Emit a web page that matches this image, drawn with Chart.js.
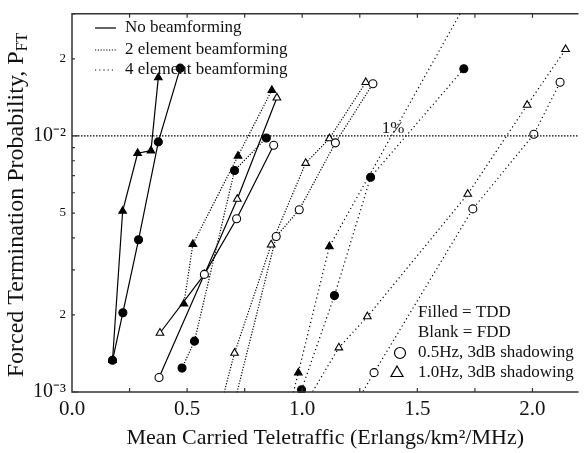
<!DOCTYPE html>
<html>
<head>
<meta charset="utf-8">
<script src="https://cdn.jsdelivr.net/npm/chart.js@4.4.0/dist/chart.umd.min.js"></script>
<style>
  body { margin: 0; background: #fff; }
  #wrap { width: 584px; height: 453px; }
</style>
</head>
<body>
<div id="wrap"><canvas id="ftChart"></canvas></div>
<script>
// [traffic (Erlangs/km^2/MHz), forced termination probability]
// no beamforming (solid)
const noBfTdd05 = [[0.176, 1.33e-3], [0.221, 2.04e-3], [0.289, 3.93e-3], [0.375, 9.48e-3], [0.470, 1.84e-2]];
const noBfTdd10 = [[0.176, 1.33e-3], [0.220, 5.09e-3], [0.285, 8.56e-3], [0.343, 8.76e-3], [0.375, 1.69e-2]];
const noBfFdd05 = [[0.378, 1.14e-3], [0.575, 2.88e-3], [0.715, 4.75e-3], [0.876, 9.2e-3]];
const noBfFdd10 = [[0.382, 1.70e-3], [0.575, 2.88e-3], [0.718, 5.67e-3], [0.890, 1.41e-2]];
// 2 element beamforming
const bf2Tdd05 = [[0.478, 1.24e-3], [0.532, 1.58e-3], [0.706, 7.33e-3], [0.844, 9.82e-3]];
const bf2Tdd10 = [[0.486, 2.21e-3], [0.525, 3.78e-3], [0.721, 8.36e-3], [0.868, 1.51e-2]];
const bf2Fdd05 = [[0.690, 8.0e-4], [0.887, 4.05e-3], [0.987, 5.15e-3], [1.144, 9.4e-3], [1.307, 1.60e-2]];
const bf2Fdd10 = [[0.633, 8.0e-4], [0.706, 1.42e-3], [0.865, 3.76e-3], [1.015, 7.83e-3], [1.118, 9.77e-3], [1.276, 1.62e-2]];
// 4 element beamforming
const bf4Tdd05 = [[0.997, 1.02e-3], [1.140, 2.38e-3], [1.297, 6.9e-3], [1.702, 1.83e-2]];
const bf4Tdd10 = [[0.935, 8.0e-4], [0.983, 1.19e-3], [1.118, 3.70e-3], [1.770, 4.1e-2]];
const bf4Fdd05 = [[1.200, 8.0e-4], [1.312, 1.19e-3], [1.741, 5.19e-3], [2.006, 1.015e-2], [2.120, 1.62e-2]];
const bf4Fdd10 = [[0.980, 8.0e-4], [1.159, 1.49e-3], [1.283, 1.97e-3], [1.719, 5.93e-3], [1.977, 1.32e-2], [2.144, 2.18e-2]];

// 1% reference line
const thresholdX = [0, 2.2];
const thresholdY = [0.01, 0.01];

const xTickValues = [0, 0.5, 1.0, 1.5, 2.0];
const yTickValues = [1e-3, 2e-3, 5e-3, 1e-2, 2e-2];
const yTickLabels = ['10\u207B\u00B3', '2', '5', '10\u207B\u00B2', '2'];

const SERIF = "'Liberation Serif', 'Times New Roman', serif";
const DASH_2 = [1.2, 1.6];
const DASH_4 = [1.2, 3];

function series(points, tdd, tri, dash) {
  return {
    data: points.map(p => ({ x: p[0], y: p[1] })),
    borderColor: '#000',
    borderWidth: 1.2,
    borderDash: dash,
    pointStyle: tri ? 'triangle' : 'circle',
    pointRadius: tri ? 4.4 : 4,
    pointBackgroundColor: tdd ? '#000' : '#fff',
    pointBorderColor: '#000',
    pointBorderWidth: 1.1,
    tension: 0,
    clip: { left: 6, right: 0, top: 0, bottom: 1 }
  };
}

const decorPlugin = {
  id: 'decor',
  afterDraw(chart) {
    const ctx = chart.ctx;
    const a = chart.chartArea;
    const xs = chart.scales.x;
    const ys = chart.scales.y;
    ctx.save();

    // frame (left, bottom, top)
    ctx.strokeStyle = '#333';
    ctx.lineWidth = 1.5;
    ctx.beginPath();
    ctx.moveTo(a.right, a.top);
    ctx.lineTo(a.left, a.top);
    ctx.lineTo(a.left, a.bottom);
    ctx.lineTo(a.right, a.bottom);
    ctx.stroke();

    // inward tick marks
    ctx.lineWidth = 1.2;
    ctx.beginPath();
    for (let v = 0.25; v < xs.max; v += 0.25) {
      const px = xs.getPixelForValue(v);
      ctx.moveTo(px, a.bottom); ctx.lineTo(px, a.bottom - 4);
      ctx.moveTo(px, a.top); ctx.lineTo(px, a.top + 4);
    }
    for (let d = -3; d <= -2; d++) {
      for (let m = 1; m <= 9; m++) {
        const v = m * Math.pow(10, d);
        if (v < ys.min || v > ys.max) continue;
        const py = ys.getPixelForValue(v);
        ctx.moveTo(a.left, py); ctx.lineTo(a.left + (m === 1 ? 6 : 3), py);
      }
    }
    ctx.stroke();

    ctx.fillStyle = '#111';

    // 1% label
    ctx.font = '17px ' + SERIF;
    ctx.textAlign = 'left';
    ctx.textBaseline = 'alphabetic';
    ctx.fillText('1%', xs.getPixelForValue(1.345), ys.getPixelForValue(0.01) - 3);

    // x title
    ctx.font = '22px ' + SERIF;
    ctx.textAlign = 'center';
    ctx.textBaseline = 'middle';
    ctx.fillText('Mean Carried Teletraffic (Erlangs/km\u00B2/MHz)', (a.left + a.right) / 2, 438);

    // y title with subscript
    ctx.save();
    ctx.translate(17, 205);
    ctx.rotate(-Math.PI / 2);
    const main = 'Forced Termination Probability, P';
    ctx.font = '24px ' + SERIF;
    const w1 = ctx.measureText(main).width;
    ctx.font = '16px ' + SERIF;
    const w2 = ctx.measureText('FT').width;
    const start = -(w1 + w2) / 2;
    ctx.textAlign = 'left';
    ctx.textBaseline = 'middle';
    ctx.font = '24px ' + SERIF;
    ctx.fillText(main, start, 0);
    ctx.font = '16px ' + SERIF;
    ctx.fillText('FT', start + w1, 6);
    ctx.restore();

    // legend: line styles (top left)
    const rows = [
      ['No beamforming', []],
      ['2 element beamforming', DASH_2],
      ['4 element beamforming', DASH_4]
    ];
    const rowY = [28, 50, 70];
    ctx.font = '17px ' + SERIF;
    ctx.textAlign = 'left';
    ctx.textBaseline = 'middle';
    rows.forEach((r, i) => {
      ctx.save();
      ctx.strokeStyle = '#000';
      ctx.lineWidth = 1.2;
      ctx.setLineDash(r[1]);
      ctx.beginPath();
      ctx.moveTo(95, rowY[i]);
      ctx.lineTo(116, rowY[i]);
      ctx.stroke();
      ctx.restore();
      ctx.fillText(r[0], 125, rowY[i]);
    });

    // legend: markers (bottom right)
    ctx.fillText('Filled = TDD', 418, 313);
    ctx.fillText('Blank = FDD', 418, 333);
    ctx.fillText('0.5Hz, 3dB shadowing', 418, 353);
    ctx.fillText('1.0Hz, 3dB shadowing', 418, 373);
    ctx.strokeStyle = '#000';
    ctx.fillStyle = '#fff';
    ctx.lineWidth = 1.2;
    ctx.beginPath();
    ctx.arc(400, 353, 5.5, 0, Math.PI * 2);
    ctx.fill(); ctx.stroke();
    ctx.beginPath();
    ctx.moveTo(397, 366); ctx.lineTo(403, 376.5); ctx.lineTo(391, 376.5); ctx.closePath();
    ctx.fill(); ctx.stroke();

    ctx.restore();
  }
};

const ctx = document.getElementById('ftChart');
const ftChart = new Chart(ctx, {
  type: 'line',
  data: {
    datasets: [
      {
        data: thresholdX.map((x, i) => ({ x: x, y: thresholdY[i] })),
        borderColor: '#000',
        borderWidth: 1.2,
        borderDash: [1.5, 1.5],
        pointRadius: 0
      },
      series(noBfTdd05, true, false, []),
      series(noBfTdd10, true, true, []),
      series(noBfFdd05, false, false, []),
      series(noBfFdd10, false, true, []),
      series(bf2Tdd05, true, false, DASH_2),
      series(bf2Tdd10, true, true, DASH_2),
      series(bf2Fdd05, false, false, DASH_2),
      series(bf2Fdd10, false, true, DASH_2),
      series(bf4Tdd05, true, false, DASH_4),
      series(bf4Tdd10, true, true, DASH_4),
      series(bf4Fdd05, false, false, DASH_4),
      series(bf4Fdd10, false, true, DASH_4)
    ]
  },
  options: {
    responsive: true,
    maintainAspectRatio: false,
    animation: false,
    layout: { padding: { top: 6, right: 0, left: 0, bottom: 0 } },
    plugins: {
      legend: { display: false },
      tooltip: { enabled: false }
    },
    scales: {
      x: {
        type: 'linear',
        min: 0,
        max: 2.2,
        grid: { display: false, drawTicks: false },
        border: { display: false },
        afterBuildTicks: s => { s.ticks = xTickValues.map(v => ({ value: v })); },
        afterFit: s => { s.height = 61; },
        ticks: {
          padding: 5,
          maxRotation: 0,
          color: '#111',
          font: { family: SERIF, size: 21 },
          callback: v => v.toFixed(1)
        }
      },
      y: {
        type: 'logarithmic',
        min: 0.001,
        max: 0.03,
        grid: { display: false, drawTicks: false },
        border: { display: false },
        afterBuildTicks: s => { s.ticks = yTickValues.map(v => ({ value: v })); },
        afterFit: s => { s.width = 72; },
        ticks: {
          padding: 6,
          color: '#111',
          font: c => {
            const v = c.tick ? c.tick.value : 0;
            const major = v === 1e-3 || v === 1e-2;
            return { family: SERIF, size: major ? 20 : 13 };
          },
          callback: (v, i) => yTickLabels[i]
        }
      }
    }
  },
  plugins: [decorPlugin]
});
</script>
</body>
</html>
